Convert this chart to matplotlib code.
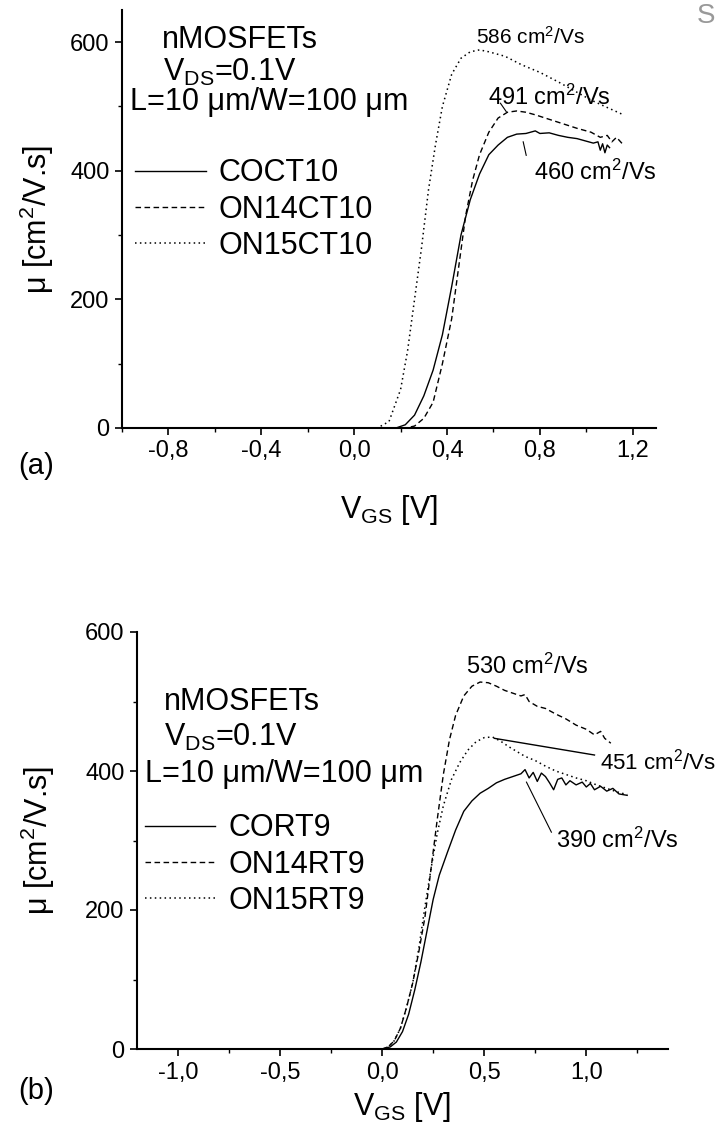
import matplotlib
matplotlib.use("Agg")
import matplotlib.pyplot as plt
from matplotlib.ticker import MultipleLocator, FuncFormatter

plt.rcParams['font.family'] = ['Liberation Sans', 'DejaVu Sans']
plt.rcParams['mathtext.fontset'] = 'custom'
plt.rcParams['mathtext.rm'] = 'Liberation Sans'
plt.rcParams['mathtext.it'] = 'Liberation Sans'

# ---------------- panel (a) data ----------------
a_coct10_v = [-1.0, 0.18, 0.22, 0.26, 0.30, 0.34, 0.38, 0.42, 0.46, 0.50, 0.54, 0.58, 0.62,
              0.66, 0.70, 0.74, 0.78, 0.80, 0.84, 0.88, 0.92, 0.96, 1.00, 1.03, 1.05, 1.06,
              1.07, 1.08, 1.09, 1.10]
a_coct10_mu = [0, 0, 5, 20, 50, 90, 145, 220, 300, 355, 395, 425, 440,
               452, 457, 458, 462, 458, 459, 455, 452, 450, 446, 443, 445, 432,
               442, 428, 440, 436]
a_on14_v = [-1.0, 0.22, 0.26, 0.30, 0.34, 0.38, 0.42, 0.45, 0.48, 0.51, 0.54, 0.58, 0.62,
            0.66, 0.70, 0.74, 0.78, 0.84, 0.90, 0.96, 1.02, 1.06, 1.09, 1.11, 1.13, 1.16]
a_on14_mu = [0, 0, 3, 15, 40, 100, 170, 250, 330, 385, 425, 460, 482,
             491, 493, 491, 487, 480, 473, 466, 460, 452, 455, 445, 452, 440]
a_on15_v = [-1.0, 0.10, 0.15, 0.20, 0.23, 0.26, 0.29, 0.32, 0.35, 0.38, 0.42, 0.46, 0.50,
            0.54, 0.58, 0.65, 0.72, 0.80, 0.88, 0.95, 1.02, 1.08, 1.16]
a_on15_mu = [0, 0, 10, 60, 120, 200, 280, 370, 440, 500, 550, 575, 585,
             588, 585, 578, 565, 553, 538, 524, 510, 500, 487]

# ---------------- panel (b) data ----------------
b_cort9_v = [-1.2, 0.0, 0.04, 0.07, 0.10, 0.13, 0.16, 0.19, 0.22, 0.25, 0.28, 0.32, 0.36,
             0.40, 0.44, 0.48, 0.52, 0.56, 0.60, 0.64, 0.68, 0.70, 0.72, 0.74, 0.76, 0.78,
             0.80, 0.82, 0.84, 0.86, 0.88, 0.90, 0.92, 0.95, 0.98, 1.00, 1.02, 1.04, 1.07,
             1.10, 1.13, 1.16, 1.20]
b_cort9_mu = [0, 0, 3, 10, 25, 50, 85, 125, 170, 215, 250, 283, 315,
              342, 357, 368, 375, 383, 388, 392, 396, 402, 390, 398, 385, 397,
              392, 383, 373, 388, 390, 380, 386, 380, 384, 377, 382, 373, 378,
              371, 375, 367, 365]
b_on14_v = [-1.2, 0.0, 0.03, 0.06, 0.09, 0.12, 0.15, 0.18, 0.21, 0.24, 0.27, 0.30, 0.33,
            0.36, 0.40, 0.44, 0.48, 0.52, 0.56, 0.60, 0.64, 0.68, 0.70, 0.72, 0.76, 0.80,
            0.85, 0.90, 0.95, 1.00, 1.04, 1.07, 1.09, 1.12]
b_on14_mu = [0, 0, 3, 12, 30, 60, 95, 140, 190, 260, 330, 395, 445,
             480, 508, 522, 528, 527, 522, 516, 512, 508, 510, 500, 493, 490,
             482, 475, 466, 460, 452, 457, 447, 440]
b_on15_v = [-1.2, 0.0, 0.03, 0.06, 0.09, 0.12, 0.15, 0.18, 0.21, 0.24, 0.27, 0.30, 0.34,
            0.38, 0.42, 0.46, 0.50, 0.54, 0.58, 0.62, 0.66, 0.70, 0.75, 0.80, 0.85, 0.90,
            0.95, 1.00, 1.05, 1.10, 1.15, 1.20]
b_on15_mu = [0, 0, 3, 12, 30, 60, 95, 145, 205, 260, 310, 350, 388,
             412, 430, 442, 448, 449, 443, 435, 428, 421, 415, 407, 400, 395,
             390, 386, 380, 375, 370, 366]

a_labels = ["COCT10", "ON14CT10", "ON15CT10"]
b_labels = ["CORT9", "ON14RT9", "ON15RT9"]
a_peaks = ["586 cm$^2$/Vs", "491 cm$^2$/Vs", "460 cm$^2$/Vs"]
b_peaks = ["530 cm$^2$/Vs", "451 cm$^2$/Vs", "390 cm$^2$/Vs"]

styles = [dict(ls='-', lw=1.0), dict(ls=(0, (4, 2.5)), lw=1.0), dict(ls=(0, (1, 2.2)), lw=1.1)]

W, H = 722, 1128
fig = plt.figure(figsize=(W / 100, H / 100), dpi=100)

def px_axes(l, r, t, b):
    return fig.add_axes([l / W, 1 - b / H, (r - l) / W, (b - t) / H])

axA = px_axes(122, 656, 10, 428)
axB = px_axes(137, 668, 632, 1049)

comma = FuncFormatter(lambda v, p: ("%.1f" % v).replace('.', ','))

def style_axes(ax, xlim, ylim, xmaj, xmin, ylc, xlc):
    ax.set_xlim(*xlim)
    ax.set_ylim(*ylim)
    for s in ['top', 'right']:
        ax.spines[s].set_visible(False)
    for s in ['left', 'bottom']:
        ax.spines[s].set_linewidth(1.5)
    ax.xaxis.set_major_locator(MultipleLocator(xmaj))
    ax.xaxis.set_minor_locator(MultipleLocator(xmin))
    ax.yaxis.set_major_locator(MultipleLocator(200))
    ax.yaxis.set_minor_locator(MultipleLocator(100))
    ax.xaxis.set_major_formatter(comma)
    ax.tick_params(which='major', direction='out', length=5, width=1.2, labelsize=17, pad=4)
    ax.tick_params(which='minor', direction='out', length=3, width=1.0)
    ax.set_ylabel("\u03bc [cm$^2$/V.s]", fontsize=22)
    ax.set_xlabel("V$_{\\mathrm{GS}}$ [V]", fontsize=22)
    ax.yaxis.set_label_coords(ylc, 0.5)
    ax.xaxis.set_label_coords(0.5, xlc)

# panel (a)
lines_a = []
for v, mu, lab, st in zip([a_coct10_v, a_on14_v, a_on15_v], [a_coct10_mu, a_on14_mu, a_on15_mu], a_labels, styles):
    l, = axA.plot(v, mu, color='black', label=lab, **st)
    lines_a.append(l)
style_axes(axA, (-1.0, 1.3), (0, 650), 0.4, 0.2, -0.124, -0.155)

# panel (b)
lines_b = []
for v, mu, lab, st in zip([b_cort9_v, b_on14_v, b_on15_v], [b_cort9_mu, b_on14_mu, b_on15_mu], b_labels, styles):
    l, = axB.plot(v, mu, color='black', label=lab, **st)
    lines_b.append(l)
style_axes(axB, (-1.2, 1.4), (0, 600), 0.5, 0.25, -0.15, -0.098)
axB.set_yticks([0, 200, 400, 600])

def header(ax, lines, labels, x0, ys, xh):
    ax.text(xh[0], ys[0], "nMOSFETs", transform=ax.transAxes, fontsize=22, va='center', ha='left')
    ax.text(xh[1], ys[1], "V$_{\\mathrm{DS}}$=0.1V", transform=ax.transAxes, fontsize=22, va='center', ha='left')
    ax.text(xh[2], ys[2], "L=10 \u03bcm/W=100 \u03bcm", transform=ax.transAxes, fontsize=22, va='center', ha='left')
    leg = ax.legend(lines, labels, loc='upper left', bbox_to_anchor=(x0, ys[3]), frameon=False,
                    fontsize=22, handlelength=2.3, handletextpad=0.42, labelspacing=0.2,
                    borderaxespad=0, borderpad=0)
    return leg

header(axA, lines_a, a_labels, 0.025, [0.928, 0.85, 0.779, 0.645], [0.075, 0.077, 0.015])
header(axB, lines_b, b_labels, 0.015, [0.832, 0.748, 0.659, 0.565], [0.05, 0.05, 0.015])

# annotations (a)
axA.text(0.76, 608, a_peaks[0], fontsize=15, ha='center', va='center')
axA.text(0.84, 515, a_peaks[1], fontsize=17, ha='center', va='center')
axA.text(1.04, 398, a_peaks[2], fontsize=17, ha='center', va='center')
axA.plot([0.63, 0.655], [505, 492], color='black', lw=0.8)
axA.plot([0.728, 0.741], [445, 424], color='black', lw=0.8)

# annotations (b)
axB.text(0.71, 550, b_peaks[0], fontsize=17, ha='center', va='center')
axB.text(1.35, 413, b_peaks[1], fontsize=16, ha='center', va='center')
axB.text(1.15, 301, b_peaks[2], fontsize=17, ha='center', va='center')
axB.plot([0.55, 1.04], [447, 423], color='black', lw=1.0)
axB.plot([0.707, 0.829], [384, 312], color='black', lw=0.8)

fig.text(36 / W, 1 - 466 / H, "(a)", fontsize=21, ha='center', va='center')
fig.text(36 / W, 1 - 1091 / H, "(b)", fontsize=21, ha='center', va='center')
fig.text(706 / W, 1 - 16 / H, "S", fontsize=20, ha='center', va='center', color='#999999')

fig.savefig("out.png", dpi=100)
